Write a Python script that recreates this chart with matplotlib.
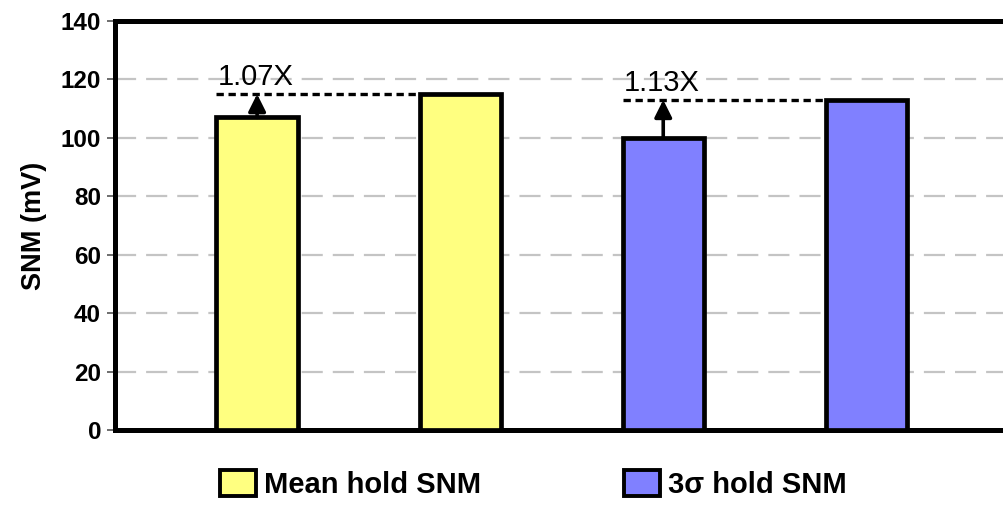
import matplotlib
matplotlib.use("Agg")
import matplotlib.pyplot as plt
from matplotlib.patches import Patch

plt.rcParams['font.family'] = ['Liberation Sans', 'DejaVu Sans']
plt.rcParams['font.weight'] = 'bold'

# Hold SNM values (mV)
mean_snm = [107, 115]
sigma_snm = [100, 113]
positions_mean = [0, 1]
positions_sigma = [2, 3]
ratio_labels = ["1.07X", "1.13X"]
yticks = [0, 20, 40, 60, 80, 100, 120, 140]
series_names = ["Mean hold SNM", "3\u03c3 hold SNM"]

yellow = "#FFFF80"
blue = "#8080FF"

fig = plt.figure(figsize=(10.04, 5.05), dpi=100)
ax = fig.add_axes([0.1145, 0.1485, 0.896, 0.8099])

bar_w = 0.4
edge_lw = 3.4
ax.bar(positions_mean, mean_snm, width=bar_w, color=yellow, edgecolor="black",
       linewidth=edge_lw, zorder=3)
ax.bar(positions_sigma, sigma_snm, width=bar_w, color=blue, edgecolor="black",
       linewidth=edge_lw, zorder=3)

ax.set_xlim(-0.70, 3.73)
ax.set_ylim(0, 140)
ax.set_yticks(yticks)
ax.set_xticks([])
ax.tick_params(axis='y', direction='out', length=6, width=1.2, color='#555555',
               labelsize=17.5, pad=4)
for lab in ax.get_yticklabels():
    lab.set_fontweight('bold')

for g in yticks[1:-1]:
    ax.axhline(g, color='#c4c4c4', linewidth=1.6, linestyle=(0, (9.5, 4.5)), zorder=1)

for side in ['left', 'top', 'bottom']:
    ax.spines[side].set_linewidth(3.6)
ax.spines['right'].set_visible(False)

ax.set_ylabel("SNM (mV)", fontsize=19.5, fontweight='bold', labelpad=10)

# Improvement annotations: dashed reference at the taller bar, arrow from the shorter bar
pairs = [(positions_mean, mean_snm), (positions_sigma, sigma_snm)]
for (pos, vals), label in zip(pairs, ratio_labels):
    x0, x1 = pos
    lo, hi = vals
    ax.plot([x0 - bar_w / 2, x1 - bar_w / 2], [hi, hi], color='black', linewidth=2.4,
            linestyle=(0, (2.2, 1.4)), zorder=4)
    ax.annotate("", xy=(x0, hi), xytext=(x0, lo),
                arrowprops=dict(arrowstyle='-|>', color='black', lw=2.6,
                                mutation_scale=26, shrinkA=0, shrinkB=0),
                zorder=5)
    ax.text(x0 - bar_w / 2 + 0.005, hi + 1.0, label, fontsize=21, fontweight='normal',
            ha='left', va='bottom', zorder=5)

handles = [Patch(facecolor=yellow, edgecolor='black', linewidth=2.8),
           Patch(facecolor=blue, edgecolor='black', linewidth=2.8)]
fig.legend(handles, series_names, loc='center', bbox_to_anchor=(0.531, 0.04), ncol=2,
           frameon=False, prop={'size': 21, 'weight': 'bold'},
           handlelength=1.25, handleheight=0.95, handletextpad=0.25, columnspacing=4.9)

fig.savefig("out.png", dpi=100)
